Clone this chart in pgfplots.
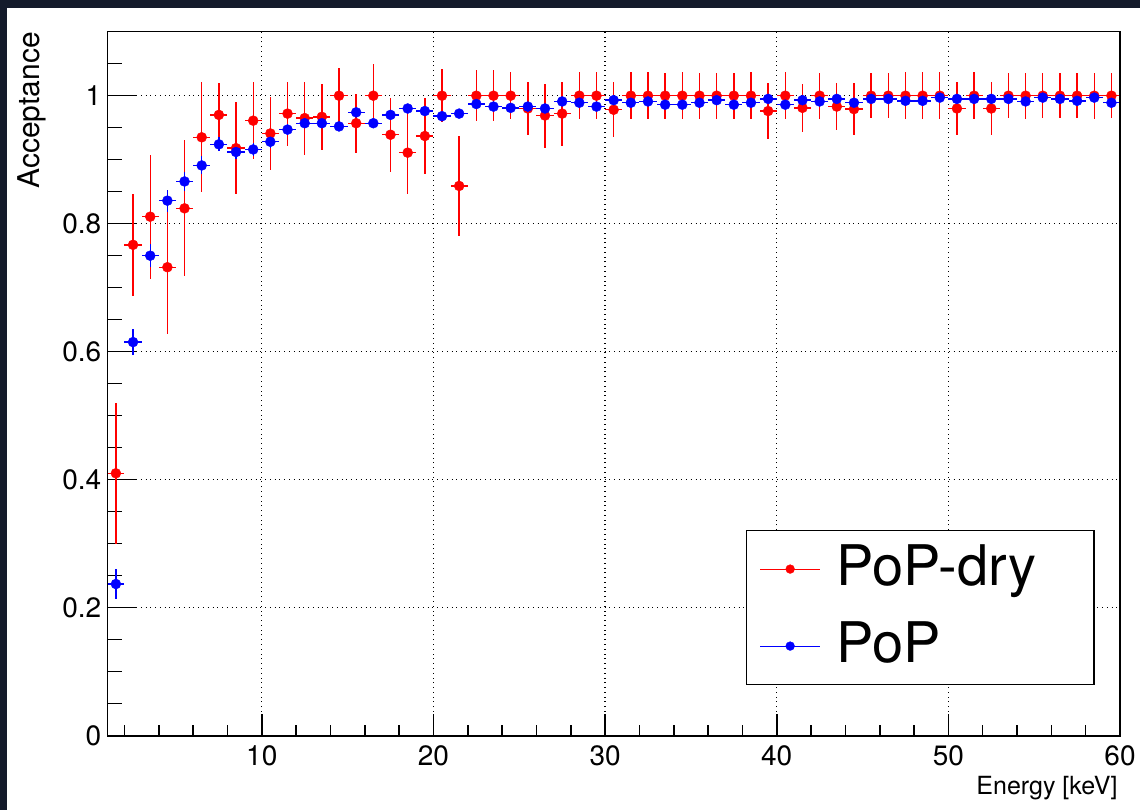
\documentclass[border=0pt]{standalone}
\usepackage{pgfplots}
\pgfplotsset{compat=1.18}
\usepackage{pgfplotstable}
\usepackage{fontspec}
\setmainfont{TeX Gyre Heros}
\definecolor{darkframe}{RGB}{20,27,43}
\pgfplotstableread{
x y ey
1.5 0.410 0.110
2.5 0.767 0.080
3.5 0.811 0.097
4.5 0.732 0.105
5.5 0.824 0.106
6.5 0.935 0.086
7.5 0.970 0.050
8.5 0.918 0.072
9.5 0.961 0.060
10.5 0.941 0.057
11.5 0.972 0.050
12.5 0.965 0.057
13.5 0.967 0.052
14.5 1.000 0.043
15.5 0.957 0.046
16.5 1.000 0.050
17.5 0.939 0.058
18.5 0.911 0.065
19.5 0.937 0.060
20.5 1.000 0.041
21.5 0.859 0.078
22.5 1.000 0.040
23.5 1.000 0.040
24.5 1.000 0.037
25.5 0.980 0.041
26.5 0.969 0.050
27.5 0.972 0.050
28.5 1.000 0.037
29.5 1.000 0.037
30.5 0.978 0.043
31.5 1.000 0.037
32.5 1.000 0.037
33.5 1.000 0.036
34.5 1.000 0.037
35.5 1.000 0.036
36.5 1.000 0.036
37.5 1.000 0.036
38.5 1.000 0.037
39.5 0.976 0.044
40.5 1.000 0.037
41.5 0.981 0.038
42.5 1.000 0.036
43.5 0.983 0.037
44.5 0.979 0.041
45.5 1.000 0.035
46.5 1.000 0.035
47.5 1.000 0.037
48.5 1.000 0.037
49.5 1.000 0.037
50.5 0.980 0.041
51.5 1.000 0.037
52.5 0.980 0.041
53.5 1.000 0.035
54.5 1.000 0.036
55.5 1.000 0.035
56.5 1.000 0.035
57.5 1.000 0.035
58.5 1.000 0.036
59.5 1.000 0.035
}\reddata
\pgfplotstableread{
x y ey
1.5 0.237 0.023
2.5 0.615 0.020
3.5 0.750 0.018
4.5 0.836 0.017
5.5 0.866 0.015
6.5 0.891 0.014
7.5 0.924 0.011
8.5 0.912 0.011
9.5 0.916 0.010
10.5 0.928 0.009
11.5 0.947 0.008
12.5 0.957 0.008
13.5 0.957 0.007
14.5 0.952 0.007
15.5 0.974 0.006
16.5 0.957 0.007
17.5 0.970 0.006
18.5 0.980 0.005
19.5 0.976 0.005
20.5 0.968 0.006
21.5 0.972 0.005
22.5 0.987 0.004
23.5 0.983 0.004
24.5 0.981 0.004
25.5 0.983 0.004
26.5 0.980 0.004
27.5 0.991 0.003
28.5 0.989 0.003
29.5 0.983 0.004
30.5 0.993 0.003
31.5 0.989 0.003
32.5 0.991 0.003
33.5 0.986 0.003
34.5 0.986 0.003
35.5 0.989 0.003
36.5 0.993 0.003
37.5 0.986 0.003
38.5 0.989 0.003
39.5 0.995 0.002
40.5 0.986 0.003
41.5 0.993 0.003
42.5 0.991 0.003
43.5 0.995 0.002
44.5 0.989 0.003
45.5 0.995 0.002
46.5 0.995 0.002
47.5 0.992 0.003
48.5 0.992 0.003
49.5 0.997 0.002
50.5 0.995 0.002
51.5 0.995 0.002
52.5 0.995 0.002
53.5 0.995 0.002
54.5 0.991 0.003
55.5 0.997 0.002
56.5 0.995 0.002
57.5 0.992 0.003
58.5 0.997 0.002
59.5 0.989 0.003
}\bluedata
\begin{document}
\begin{tikzpicture}
\useasboundingbox (0,0) rectangle (570bp,405bp);
\fill[white] (0,0) rectangle (570bp,405bp);
\fill[darkframe] (0,401bp) rectangle (570bp,405bp);
\fill[darkframe] (0,0) rectangle (3.5bp,405bp);
\begin{axis}[
  at={(53.65bp,37.15bp)}, anchor=south west,
  scale only axis, width=506.35bp, height=352bp,
  xmin=1, xmax=60, ymin=0, ymax=1.1,
  xtick={10,20,30,40,50,60},
  ytick={0,0.2,0.4,0.6,0.8,1},
  minor ytick={0.05,0.1,0.15,0.25,0.3,0.35,0.45,0.5,0.55,0.65,0.7,0.75,0.85,0.9,0.95,1.05},
  xtick style={draw=none},
  ytick style={black, line width=0.8bp},
  xtick pos=bottom, ytick pos=left,
  tick align=inside,
  major tick length=15bp, minor tick length=7.5bp,
  grid=major,
  major grid style={black, dotted, line width=0.6bp},
  axis line style={black, line width=0.8bp},
  /pgf/number format/assume math mode=true,
  ticklabel style={font=\fontsize{14bp}{16bp}\selectfont},
  yticklabel style={inner sep=0pt, xshift=-2.8bp},
  xticklabel style={inner sep=0pt, yshift=-5bp},
  xlabel={Energy [keV]}, ylabel={Acceptance},
  every axis x label/.style={at={(rel axis cs:0.998,-0.0842)}, anchor=base east, inner sep=0pt, font=\fontsize{12.5bp}{14bp}\selectfont},
  every axis y label/.style={at={(rel axis cs:-0.06646,1)}, anchor=base east, rotate=90, inner sep=0pt, font=\fontsize{15bp}{17bp}\selectfont},
  every axis legend/.style={at={(rel axis cs:0.6304,0.2922)}, anchor=north west, draw=black, fill=white, line width=0.6bp, inner xsep=6.65bp, inner ysep=0pt, row sep=0pt, column sep=8bp, cells={anchor=west}, nodes={inner sep=0pt}, font=\fontsize{28bp}{30bp}\selectfont},
  legend image code/.code={\draw[#1, mark repeat=2, mark phase=2] plot coordinates {(0bp,0bp) (15bp,0bp) (30bp,0bp)};},
]
\addplot[red, only marks, mark=*, mark size=2.5bp, mark options={fill=red, draw=red, line width=0.2bp}, forget plot,
  error bars/.cd, x dir=both, x fixed=0.5, y dir=both, y explicit, error mark=none,
  error bar style={line width=0.7bp, solid}]
  table[x=x, y=y, y error=ey] {\reddata};
\addplot[blue, only marks, mark=*, mark size=2.5bp, mark options={fill=blue, draw=blue, line width=0.2bp}, forget plot,
  error bars/.cd, x dir=both, x fixed=0.5, y dir=both, y explicit, error mark=none,
  error bar style={line width=0.7bp, solid}]
  table[x=x, y=y, y error=ey] {\bluedata};
\addlegendimage{red, line width=0.55bp, mark=*, mark size=2.2bp, mark options={fill=red, line width=0.2bp}}
\addlegendentry{\rule[-11.25bp]{0pt}{38.5bp}\makebox[122bp][l]{PoP-dry}}
\addlegendimage{blue, line width=0.55bp, mark=*, mark size=2.2bp, mark options={fill=blue, line width=0.2bp}}
\addlegendentry{\rule[-11.25bp]{0pt}{38.5bp}\makebox[122bp][l]{PoP}}
\end{axis}
\begin{axis}[
  at={(53.65bp,37.15bp)}, anchor=south west,
  scale only axis, width=506.35bp, height=352bp,
  xmin=1, xmax=60, ymin=0, ymax=1.1,
  xtick={10,20,30,40,50,60},
  minor xtick={2,4,6,8,12,14,16,18,22,24,26,28,32,34,36,38,42,44,46,48,52,54,56,58},
  xticklabels={}, ytick=\empty,
  xtick pos=bottom,
  tick align=inside,
  major tick length=11bp, minor tick length=5.5bp,
  xtick style={black, line width=0.8bp},
  axis line style={black, line width=0.8bp},
]
\end{axis}
\end{tikzpicture}
\end{document}
